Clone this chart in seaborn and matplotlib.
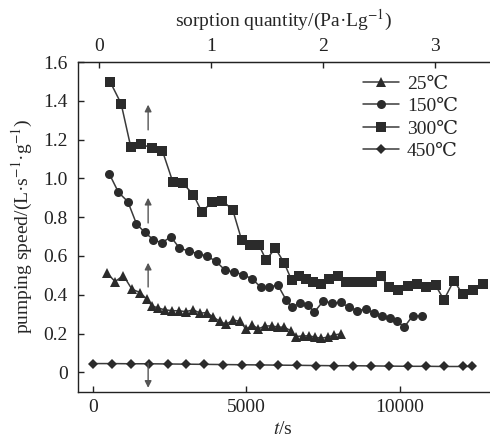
import numpy as np
import pandas as pd
import matplotlib
matplotlib.use("Agg")
import matplotlib.pyplot as plt
import seaborn as sns

# 25 C (triangles)
t_25 = [455, 726, 996, 1269, 1539, 1757, 1920, 2135, 2353, 2571, 2808, 3026, 3274, 3492,
        3710, 3925, 4143, 4338, 4576, 4794, 4989, 5194, 5389, 5607, 5825, 6040, 6236, 6453,
        6616, 6834, 7049, 7235, 7429, 7647, 7862, 8080]
v_25 = [0.512, 0.468, 0.499, 0.429, 0.411, 0.377, 0.343, 0.331, 0.322, 0.318, 0.317, 0.313,
        0.322, 0.305, 0.308, 0.284, 0.262, 0.248, 0.270, 0.262, 0.222, 0.244, 0.224, 0.239,
        0.239, 0.233, 0.233, 0.213, 0.184, 0.188, 0.188, 0.181, 0.176, 0.181, 0.193, 0.198]

# 150 C (circles)
t_150 = [530, 834, 1139, 1419, 1692, 1972, 2245, 2538, 2818, 3124, 3417, 3710, 4012, 4315,
         4608, 4901, 5194, 5467, 5747, 6020, 6290, 6475, 6746, 6996, 7211, 7504, 7777, 8070,
         8340, 8611, 8894, 9154, 9424, 9675, 9912, 10140, 10413, 10706]
v_150 = [1.025, 0.928, 0.880, 0.766, 0.721, 0.684, 0.667, 0.699, 0.641, 0.625, 0.612, 0.600,
         0.572, 0.525, 0.517, 0.503, 0.481, 0.439, 0.439, 0.451, 0.374, 0.336, 0.357, 0.348,
         0.310, 0.368, 0.357, 0.360, 0.336, 0.318, 0.326, 0.305, 0.291, 0.279, 0.262, 0.233,
         0.291, 0.291]

# 300 C (squares)
t_300 = [566, 921, 1236, 1572, 1920, 2265, 2603, 2929, 3274, 3547, 3882, 4218, 4556, 4849,
         5119, 5402, 5640, 5943, 6225, 6475, 6713, 6931, 7179, 7429, 7700, 7973, 8243, 8513,
         8786, 9079, 9382, 9652, 9945, 10251, 10544, 10846, 11162, 11432, 11757, 12040,
         12366, 12691]
v_300 = [1.497, 1.385, 1.161, 1.175, 1.158, 1.142, 0.982, 0.975, 0.916, 0.828, 0.877, 0.885,
         0.837, 0.680, 0.658, 0.658, 0.580, 0.639, 0.566, 0.474, 0.498, 0.480, 0.468, 0.455,
         0.480, 0.494, 0.465, 0.465, 0.465, 0.465, 0.494, 0.439, 0.425, 0.446, 0.455, 0.439,
         0.448, 0.374, 0.473, 0.403, 0.422, 0.455]

# 450 C (diamonds)
t_450 = [0, 618, 1236, 1832, 2440, 3036, 3632, 4250, 4849, 5444, 6040, 6639, 7257, 7862,
         8461, 9056, 9652, 10251, 10856, 11442, 12040, 12333]
v_450 = [0.045, 0.045, 0.044, 0.044, 0.043, 0.042, 0.041, 0.040, 0.039, 0.038, 0.037, 0.036,
         0.035, 0.034, 0.034, 0.033, 0.032, 0.031, 0.031, 0.030, 0.030, 0.030]

labels = ["25℃", "150℃", "300℃", "450℃"]
markers = ["^", "o", "s", "D"]
sizes = [6.5, 6.5, 6.5, 5.5]

# arrows: (t, y_tail, y_head)
arrows = [(1800, 1.25, 1.38), (1800, 0.77, 0.90), (1800, 0.44, 0.565), (1800, 0.047, -0.08)]

# top axis: sorption quantity = (t - t0) / k
t0, k = 205, 3645

sns.set_style("ticks")
plt.rcParams["font.family"] = ["Liberation Serif", "DejaVu Serif"]
plt.rcParams["mathtext.fontset"] = "stix"
plt.rcParams["font.size"] = 14

fig = plt.figure(figsize=(4.9, 4.41), dpi=100)
ax = fig.add_axes([77.5 / 490, 1 - 391.7 / 441, (489 - 77.5) / 490, (391.7 - 62) / 441])

series = [(t_25, v_25), (t_150, v_150), (t_300, v_300), (t_450, v_450)]
for (tt, vv), lab, m, ms in zip(series, labels, markers, sizes):
    df = pd.DataFrame({"t": tt, "v": vv})
    sns.lineplot(data=df, x="t", y="v", ax=ax, color="#3a3a3a", lw=1.1,
                 marker=m, markersize=ms, markeredgewidth=0, markerfacecolor="#2b2b2b",
                 label=lab)

for t, y1, y2 in arrows:
    ax.annotate("", xy=(t, y2), xytext=(t, y1),
                arrowprops=dict(arrowstyle="-|>", color="#555555", lw=1,
                                mutation_scale=10, shrinkA=0, shrinkB=0))

ax.set_xlim(-500, 12900)
ax.set_ylim(-0.1, 1.6)
ax.set_xticks([0, 5000, 10000])
ax.set_yticks(np.arange(0, 1.61, 0.2))
ax.set_yticklabels(["0", "0.2", "0.4", "0.6", "0.8", "1.0", "1.2", "1.4", "1.6"])
ax.tick_params(direction="in", length=4, width=1, labelsize=14, colors="#222222")
ax.tick_params(axis="y", pad=7)
ax.tick_params(axis="x", pad=5)
for s in ["left", "bottom", "top"]:
    ax.spines[s].set_linewidth(1)
    ax.spines[s].set_color("#222222")
ax.spines["right"].set_visible(False)

ax.set_xlabel("$t$/s", fontsize=14, labelpad=4)
ax.set_ylabel("pumping speed/(L·s$^{-1}$·g$^{-1}$)", fontsize=14, labelpad=6)

top = ax.secondary_xaxis("top", functions=(lambda x: (x - t0) / k, lambda q: q * k + t0))
top.set_xticks([0, 1, 2, 3])
top.tick_params(direction="in", length=4, width=1, labelsize=14, colors="#222222", pad=5)
top.set_xlabel("sorption quantity/(Pa·Lg$^{-1}$)", fontsize=14, labelpad=8)

leg = ax.legend(loc="upper left", bbox_to_anchor=(363 / 490, 1 - 75 / 441),
                bbox_transform=fig.transFigure, frameon=False, fontsize=14,
                handlelength=1.85, handletextpad=0.4, labelspacing=0.25, borderpad=0,
                borderaxespad=0)

fig.savefig("out.png", dpi=100)
